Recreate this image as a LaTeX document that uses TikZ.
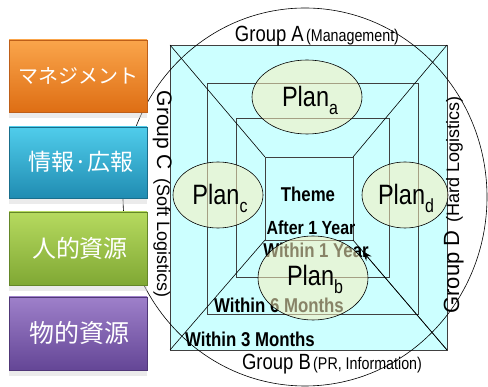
\documentclass[tikz,border=0pt]{standalone}
\usepackage{fontspec}
\setmainfont{Liberation Sans}
\newfontfamily\cond[FakeStretch=0.84]{Liberation Sans}
\newfontfamily\jp{Noto Sans CJK JP}
\usetikzlibrary{arrows.meta,calc,shadings}
\definecolor{cyanfill}{HTML}{CCFFFF}
\definecolor{planfill}{HTML}{F8F0BC}
\definecolor{rectline}{HTML}{404040}
\tikzset{
  frame/.style={draw=rectline, line width=0.7pt, fill=cyanfill},
  plan/.style={draw=black, line width=0.6pt, fill=planfill, fill opacity=0.55},
  boldlbl/.style={font=\cond\bfseries\fontsize{20}{20}\selectfont, inner sep=0pt, anchor=base},
  planlbl/.style={font=\cond\fontsize{28}{28}\selectfont, inner sep=0pt, anchor=base},
  jptext/.style={text=white, font=\jp, inner sep=0pt},
  refl/.style={fill=gray!35, opacity=0.45, draw=none}
}
\newcommand{\plansub}[1]{\raisebox{-7.5pt}{\fontsize{19}{19}\selectfont #1}}
\begin{document}
\begin{tikzpicture}[x=1pt,y=-1pt]
\useasboundingbox (0,0) rectangle (488,387);
% frames
\path[frame] (170,45) rectangle (447,350);
\path[frame] (207,83) rectangle (418,314);
\path[frame] (236,118) rectangle (389,277);
\path[frame] (265,157) rectangle (353,240);
\coordinate (oTL) at (170,45);
\coordinate (oTR) at (447,45);
\coordinate (oBL) at (170,350);
\coordinate (oBR) at (447,350);
\coordinate (iTL) at (265,157);
\coordinate (iTR) at (353,157);
\coordinate (iBL) at (265,240);
\coordinate (iBR) at (353,240);
\draw[line width=0.6pt] (oTL) -- (iTL);
\draw[line width=0.6pt] (oTR) -- (iTR);
\draw[line width=0.6pt] (oBL) -- (iBL);
\draw[line width=0.6pt] (oBR) -- (iBR);
% labels under ellipses
\node[boldlbl] (theme) at (308,202) {Theme};
\node[boldlbl, font=\cond\bfseries\fontsize{19}{19}\selectfont] (after) at (311,235) {After 1 Year};
\node[boldlbl] (w1) at (316,258) {Within 1 Year};
\node[boldlbl] (w6) at (279,313) {Within 6 Months};
\node[boldlbl] (w3) at (250,347) {Within 3 Months};
% plan ellipses
\path[plan] (307,97) ellipse [x radius=55pt, y radius=37pt];
\path[plan] (218,195) ellipse [x radius=45pt, y radius=33pt];
\path[plan] (405,195) ellipse [x radius=43pt, y radius=33pt];
\path[plan] (313,278) ellipse [x radius=55pt, y radius=42pt];
\draw[line width=0.6pt, -{Stealth[length=10pt,width=7pt]}] (oBR) -- ($(oBR)!0.9!(iBR)$);
\node[planlbl] (pa) at (310,107) {Plan\plansub{a}};
\node[planlbl] (pc) at (220,205) {Plan\plansub{c}};
\node[planlbl] (pd) at (406,205) {Plan\plansub{d}};
\node[planlbl] (pb) at (315,286) {Plan\plansub{b}};
% big circle
\draw[line width=0.6pt] (305,197) ellipse [x radius=182pt, y radius=189pt];
% left boxes
\path[refl] (9,112) rectangle (147,118);
\path[refl] (9,198) rectangle (147,204);
\path[refl] (9,285) rectangle (147,291);
\path[refl] (9,370) rectangle (147,376);
\shade[top color={rgb,255:red,250;green,165;blue,75}, bottom color={rgb,255:red,222;green,110;blue,20}, draw={rgb,255:red,190;green,95;blue,25}, line width=0.6pt]
  (9,40) rectangle (147,112);
\shade[top color={rgb,255:red,80;green,205;blue,235}, bottom color={rgb,255:red,32;green,140;blue,178}, draw={rgb,255:red,25;green,110;blue,140}, line width=0.6pt]
  (9,127) rectangle (147,198);
\shade[top color={rgb,255:red,182;green,218;blue,95}, bottom color={rgb,255:red,128;green,168;blue,52}, draw={rgb,255:red,100;green,135;blue,40}, line width=0.6pt]
  (9,212) rectangle (147,285);
\shade[top color={rgb,255:red,158;green,128;blue,202}, bottom color={rgb,255:red,100;green,70;blue,150}, draw={rgb,255:red,80;green,55;blue,120}, line width=0.6pt]
  (9,297) rectangle (147,370);
\node[jptext, font=\jp\fontsize{20}{20}\selectfont] (b1) at (79,76) {マネジメント};
\node[jptext, font=\jp\fontsize{23}{23}\selectfont] (b2) at (81,162) {情報·広報};
\node[jptext, font=\jp\fontsize{24}{24}\selectfont] (b3) at (80,248) {人的資源};
\node[jptext, font=\jp\fontsize{25}{25}\selectfont] (b4) at (80,333) {物的資源};
% group labels
\node[inner sep=0pt, anchor=base, font=\cond] (ga) at (317,42)
  {{\fontsize{22}{22}\selectfont Group A} {\fontsize{17}{17}\selectfont (Management)}};
\node[inner sep=0pt, anchor=base, font=\cond] (gb) at (332,370)
  {{\fontsize{22}{22}\selectfont Group B} {\fontsize{17}{17}\selectfont (PR, Information)}};
\node[inner sep=0pt, anchor=base, rotate=-90] (gc) at (157,194)
  {{\fontsize{21}{21}\selectfont Group C}\hspace{8pt}{\fontsize{18}{18}\selectfont (Soft Logistics)}};
\node[inner sep=0pt, anchor=base, rotate=90] (gd) at (459,205)
  {{\fontsize{22}{22}\selectfont Group D}\hspace{8pt}{\fontsize{18}{18}\selectfont (Hard Logistics)}};
\end{tikzpicture}
\end{document}
